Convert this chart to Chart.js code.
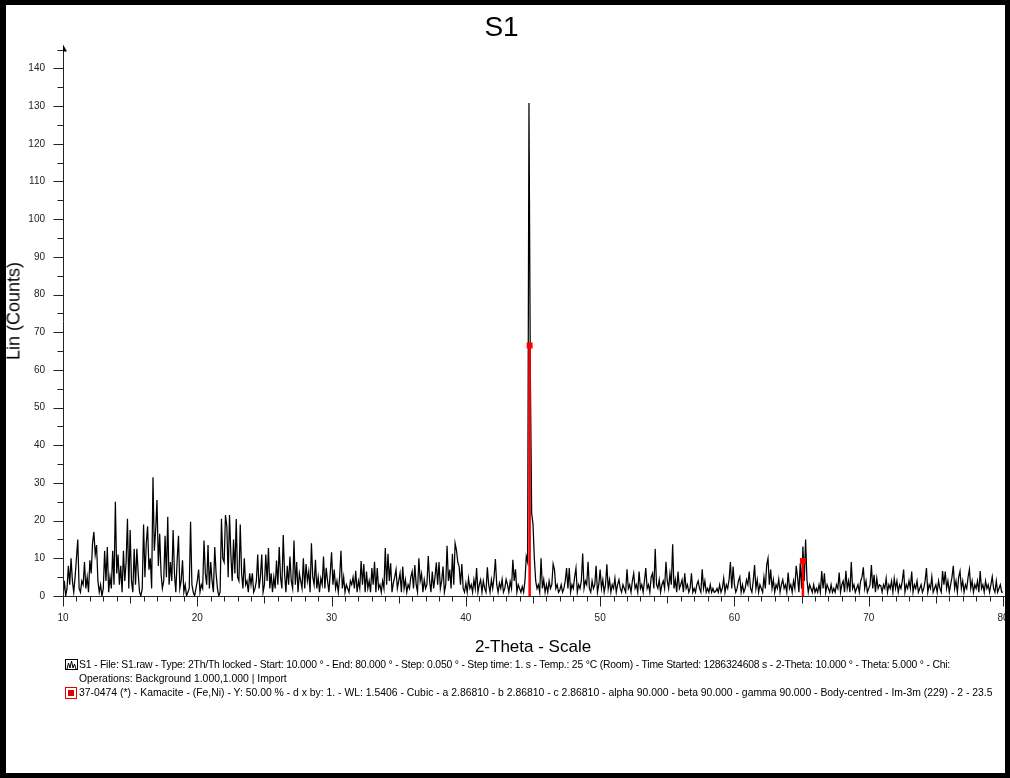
<!DOCTYPE html>
<html>
<head>
<meta charset="utf-8">
<script src="https://cdn.jsdelivr.net/npm/chart.js@4.4.0/dist/chart.umd.min.js"></script>
<style>
  html, body { margin: 0; padding: 0; background: #fff; }
  #wrap { position: relative; width: 1010px; height: 778px; overflow: hidden; font-family: 'Liberation Sans', Arial, sans-serif; }
  #frame { position: absolute; left: 0; top: 0; width: 1010px; height: 778px; box-sizing: border-box; border: solid #000; border-width: 5px 5px 5px 6px; pointer-events: none; }
  #ytitle { position: absolute; left: 14px; top: 311px; transform: translate(-50%, -50%) rotate(-90deg); font-size: 18px; white-space: nowrap; color: #000; }
  #legend { position: absolute; left: 65px; top: 658px; font-size: 10.4px; line-height: 14.2px; color: #000; }
  .row { position: relative; padding-left: 14px; white-space: nowrap; }
  .row.first { letter-spacing: -0.2px; }
  .row svg { position: absolute; left: 0; top: 1px; }
</style>
</head>
<body>
<div id="wrap">
  <canvas id="xrd" width="1010" height="778"></canvas>
  <div id="ytitle">Lin (Counts)</div>
  <div id="legend">
    <div class="row first"><svg width="13" height="12"><rect x="0.5" y="0.5" width="12" height="10" fill="#fff" stroke="#000"/><polyline points="2,10 3.5,4 5,9 6.5,2 8,9 9.5,5 11,10" fill="none" stroke="#000" stroke-width="1"/></svg>S1 - File: S1.raw - Type: 2Th/Th locked - Start: 10.000 ° - End: 80.000 ° - Step: 0.050 ° - Step time: 1. s - Temp.: 25 °C (Room) - Time Started: 1286324608 s - 2-Theta: 10.000 ° - Theta: 5.000 ° - Chi:</div>
    <div class="row">Operations: Background 1.000,1.000 | Import</div>
    <div class="row"><svg width="13" height="12"><rect x="0.5" y="0.5" width="11" height="11" fill="#fff" stroke="#e00000"/><rect x="3" y="3" width="6" height="6" fill="#e00000"/></svg>37-0474 (*) - Kamacite - (Fe,Ni) - Y: 50.00 % - d x by: 1. - WL: 1.5406 - Cubic - a 2.86810 - b 2.86810 - c 2.86810 - alpha 90.000 - beta 90.000 - gamma 90.000 - Body-centred - Im-3m (229) - 2 - 23.5</div>
  </div>
  <div id="frame"></div>
</div>
<script>
// scan settings (2-Theta, degrees)
const scanStart = 10;
const scanStep = 0.1;
const xMin = 10, xMax = 80;
const yMin = 0, yMax = 145;
const xTickLabels = [10, 20, 30, 40, 50, 60, 70, 80];

// Lin (Counts), one row per degree
const counts = [
  0, 4, 0, 2, 8, 3, 10, 4, 1, 5,            // 10
  10, 15, 2, 1, 4, 3, 9, 2, 5, 1,           // 11
  9.5, 6, 14, 17, 11, 13.5, 4, 1, 3, 0,     // 12
  2, 12, 4, 13, 1, 5, 2, 12, 3, 25,         // 13
  6, 11, 3, 8, 1, 12, 4, 9, 20.5, 2,        // 14
  17.5, 4, 1, 12.5, 3, 12.5, 6, 1, 0, 2,    // 15
  19, 5, 14, 18.5, 7, 10, 2, 31.5, 12, 17.5,// 16
  25.5, 8, 16.5, 6, 2, 4, 16, 5, 21, 3,     // 17
  9, 4, 17.5, 6, 1, 9.5, 16, 2, 4, 9.5,     // 18
  1, 3, 0, 1, 2, 19.7, 3, 1, 0, 2,          // 19
  4, 7, 1, 3, 2, 14.7, 6, 3, 13.5, 2,       // 20
  9, 4, 1, 13, 6, 2, 0, 1, 20.5, 10,        // 21
  9, 21.5, 18.5, 5, 21.5, 11, 4, 15, 6, 20.4,// 22
  5, 4, 19, 6, 2, 10, 3, 4, 1, 6,           // 23
  3, 6, 1, 2, 4, 11, 2, 5, 11, 1,           // 24
  3, 11, 4, 12.7, 2, 6, 1, 5, 2, 9.4,       // 25
  3, 13, 5, 2, 16.2, 6, 1, 8, 3, 10.5,      // 26
  4, 2, 14.7, 3, 9, 1, 6, 4, 2, 10,         // 27
  2, 8.5, 4, 6.5, 1, 14, 5, 3, 9.6, 2,      // 28
  5, 1, 4.7, 3, 10.5, 2, 7.5, 4, 1, 6,      // 29
  11.6, 3, 7, 2, 4, 1, 5, 12, 2, 5,         // 30
  1, 3, 2, 1, 4, 3, 5, 2, 6.7, 1,           // 31
  4, 2, 9.3, 3, 8.5, 1, 6.5, 2, 4, 1,       // 32
  7.4, 3, 9.1, 1, 7.4, 2, 3, 1, 4, 2,       // 33
  12.7, 3, 11.2, 4, 8.7, 1, 3.4, 5, 7, 2,   // 34
  4, 6, 1, 7.8, 2, 4.3, 1, 3, 2, 5,         // 35
  6.5, 2, 8.2, 3, 1, 10, 4, 5.9, 1, 4.3,    // 36
  2, 3, 10.6, 4, 1, 6.5, 2, 5, 8.9, 3,      // 37
  9, 2, 4, 7.8, 1, 3, 13.3, 4, 7, 2,        // 38
  11.2, 3, 14, 12.2, 9, 7.8, 3, 8.5, 2, 1,  // 39
  3.4, 1, 4.7, 2, 3, 1, 4.3, 2, 7.4, 1,     // 40
  3, 4.3, 1, 4, 2, 1, 7.6, 3, 1, 4.3,       // 41
  2, 5, 9.8, 3, 1, 3.4, 2, 4.4, 1, 2,       // 42
  4.4, 3, 1, 3.8, 2, 9.6, 4, 7.1, 1, 3,     // 43
  2, 1, 2.5, 1, 4, 10.5, 9, 130.8, 60, 22,  // 44
  19, 10, 4, 2, 3, 1, 10, 2, 4.3, 1,        // 45
  3, 1, 4, 2, 3, 8.5, 7, 2, 3, 1,           // 46
  1.6, 3, 1, 2, 4, 7.4, 2, 7.4, 1, 3,       // 47
  2, 5, 7.4, 1, 3, 2, 4, 11.3, 2, 4,        // 48
  3, 9.1, 2, 1, 4, 2, 3, 8, 1, 3,           // 49
  7, 2, 4.3, 1, 3, 8.4, 2, 4.3, 1, 3,       // 50
  2, 4.7, 1, 3, 4.3, 2, 1, 3, 2, 1,         // 51
  7.1, 2, 3, 1, 4, 6, 2, 3, 1, 6.5,         // 52
  2, 3, 1, 4, 7.4, 2, 3, 1, 5, 6,           // 53
  2, 12.5, 3, 2, 4.3, 1, 3, 4, 2, 9.1,      // 54
  4, 2, 6, 3, 13.7, 2, 4.3, 1, 6.5, 2,      // 55
  3, 4.3, 1, 6, 2, 3, 1, 2, 6, 1,           // 56
  2, 1, 3, 4, 2, 1, 7.1, 2, 4, 1,           // 57
  2, 1, 3, 1, 2, 1, 1.2, 2, 1, 3,           // 58
  1, 2, 4.7, 1, 3, 2, 4.3, 9, 2, 7.8,       // 59
  3, 1, 2, 4, 5.1, 1, 3, 1, 2, 4.3,         // 60
  3, 6.5, 2, 1, 4, 8.2, 2, 4.3, 1, 3,       // 61
  2, 1, 5, 2, 8.2, 10, 3, 7, 2, 4.3,        // 62
  1, 3, 2, 4.5, 1, 3, 4.3, 2, 3, 1,         // 63
  6.2, 2, 3, 1, 4, 2, 8, 5, 1, 8.7,         // 64
  2, 13.1, 4, 15, 4.3, 1, 3, 2, 1, 3,       // 65
  1, 2, 1, 3, 1, 6.6, 2, 6, 1, 3,           // 66
  2, 1, 3, 1, 2, 1, 3, 2, 6.2, 1,           // 67
  3, 4, 1, 6.7, 2, 4, 1, 9, 2, 3,           // 68
  1, 2, 3, 1, 4, 5, 7.6, 2, 4, 1,           // 69
  2, 3, 8.2, 2, 5.6, 1, 4.7, 2, 3, 2.7,     // 70
  1, 3, 2, 4.7, 1, 3, 2, 4, 1, 4.7,         // 71
  2, 4, 1, 3, 2, 4, 7, 1, 3, 2,             // 72
  4, 2, 6.5, 1, 3, 2, 4, 1, 2, 3,           // 73
  1, 2, 4, 7.4, 1, 3, 2, 5.1, 1, 2,         // 74
  3, 1, 4, 2, 1, 6.6, 3, 6.5, 2, 4,         // 75
  1, 3, 5, 8, 2, 4, 1, 5, 6.6, 2,           // 76
  4, 1, 3, 2, 5, 7.1, 2, 4, 1, 3,           // 77
  2, 4, 1, 6.6, 2, 3, 1, 4, 2, 3,           // 78
  1, 3, 5.1, 2, 1, 4, 1, 2, 3, 1,           // 79
  1                                         // 80
];

// 37-0474 Kamacite reference sticks
const stickTheta = [44.75, 65.1];
const stickHeight = [66.5, 9.3];

const scanPoints = counts.map((c, i) => ({ x: +(scanStart + i * scanStep).toFixed(2), y: c }));
const stickPoints = [];
stickTheta.forEach((t, i) => {
  stickPoints.push({ x: t, y: 0 }, { x: t, y: stickHeight[i] }, { x: t + 0.01, y: null });
});

// axis lines, tick marks and the little arrow on the y axis
const axisMarks = {
  id: 'axisMarks',
  afterDatasetsDraw(chart) {
    const { ctx, chartArea: a, scales: { x, y } } = chart;
    ctx.save();
    ctx.strokeStyle = '#222';
    ctx.lineWidth = 1;
    ctx.beginPath();
    const ax = Math.round(a.left) + 0.5;
    const ay = Math.round(a.bottom) + 0.5;
    ctx.moveTo(ax, ay); ctx.lineTo(ax, a.top - 3);
    ctx.moveTo(a.left, ay); ctx.lineTo(a.right + 6, ay);
    for (let v = yMin; v <= yMax; v += 5) {
      const py = Math.round(y.getPixelForValue(v)) + 0.5;
      const len = v % 10 === 0 ? 10 : 6;
      ctx.moveTo(ax - len, py); ctx.lineTo(ax, py);
    }
    for (let d = xMin; d <= xMax; d++) {
      const px = Math.round(x.getPixelForValue(d)) + 0.5;
      const len = d % 10 === 0 ? 10 : (d % 5 === 0 ? 7 : 5);
      ctx.moveTo(px, ay); ctx.lineTo(px, ay + len);
    }
    ctx.stroke();
    ctx.fillStyle = '#000';
    ctx.beginPath();
    ctx.moveTo(ax - 0.5, a.top - 5);
    ctx.lineTo(ax + 3.5, a.top + 2);
    ctx.lineTo(ax - 0.5, a.top + 2);
    ctx.closePath();
    ctx.fill();
    ctx.restore();
  }
};

new Chart(document.getElementById('xrd'), {
  type: 'line',
  data: {
    datasets: [
      {
        label: 'S1',
        data: scanPoints,
        borderColor: '#000',
        borderWidth: 1.25,
        pointRadius: 0,
        tension: 0,
        order: 1
      },
      {
        label: '37-0474 (*) - Kamacite',
        data: stickPoints,
        borderColor: '#ff0000',
        backgroundColor: '#ff0000',
        borderWidth: 2.5,
        spanGaps: false,
        pointStyle: 'rect',
        pointRadius: ctx => (ctx.raw && ctx.raw.y > 0 ? 4.2 : 0),
        pointBorderWidth: 0,
        order: 0
      }
    ]
  },
  options: {
    responsive: false,
    animation: false,
    devicePixelRatio: 1,
    layout: { padding: { left: 0, right: 7, top: 0, bottom: 120 } },
    plugins: {
      legend: { display: false },
      tooltip: { enabled: false },
      title: {
        display: true,
        text: 'S1',
        color: '#000',
        font: { family: "'Liberation Sans', Arial, sans-serif", size: 28, weight: 'normal' },
        padding: { top: 11, bottom: 5 }
      }
    },
    scales: {
      x: {
        type: 'linear',
        min: xMin,
        max: xMax,
        grid: { display: false, drawTicks: false },
        border: { display: false },
        ticks: {
          stepSize: 10,
          padding: 16,
          maxRotation: 0,
          color: '#222',
          font: { family: "'Liberation Sans', Arial, sans-serif", size: 10 },
          callback: v => (xTickLabels.includes(v) ? v : '')
        },
        title: {
          display: true,
          text: '2-Theta - Scale',
          color: '#000',
          padding: 0,
          font: { family: "'Liberation Sans', Arial, sans-serif", size: 17 }
        },
        afterFit: s => { s.height = 62; s.paddingLeft = 0; s.paddingRight = 0; }
      },
      y: {
        min: yMin,
        max: yMax,
        grid: { display: false, drawTicks: false },
        border: { display: false },
        ticks: {
          stepSize: 10,
          includeBounds: false,
          padding: 18,
          color: '#222',
          font: { family: "'Liberation Sans', Arial, sans-serif", size: 10 },
          callback: v => (v % 10 === 0 ? v : '')
        },
        afterFit: s => { s.width = 63; s.paddingTop = 0; s.paddingBottom = 0; }
      }
    }
  },
  plugins: [axisMarks]
});
</script>
</body>
</html>
